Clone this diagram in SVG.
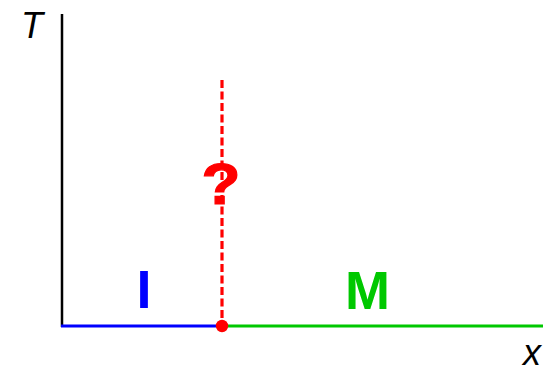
<svg xmlns="http://www.w3.org/2000/svg" width="543" height="370" viewBox="0 0 543 370">
<style>
.ax{font-family:"Liberation Sans",Arial,sans-serif;font-style:italic;font-size:36px;fill:#000}
.lb{font-family:"Liberation Sans",Arial,sans-serif;font-weight:bold;font-size:54px;text-anchor:middle}
</style>
<rect width="543" height="370" fill="#fff"/>
<g id="connectors">
<line x1="62" y1="14" x2="62" y2="327" stroke="#000" stroke-width="2.5"/>
<line x1="61" y1="326" x2="222" y2="326" stroke="#0000ff" stroke-width="3"/>
<line x1="222" y1="326" x2="543" y2="326" stroke="#00c800" stroke-width="3"/>
<line x1="222" y1="80" x2="222" y2="326" stroke="#ff0000" stroke-width="3.2" stroke-dasharray="8 3.5"/>
</g>
<g id="axis-T"><text class="ax" x="21" y="37.5">T</text></g>
<g id="axis-x"><text class="ax" x="523" y="365">x</text></g>
<g id="label-I"><text class="lb" x="144" y="308" fill="#0000ff">I</text></g>
<g id="label-M"><text class="lb" x="367.5" y="308.5" fill="#00c800">M</text></g>
<g id="question"><text class="lb" transform="translate(221 203.5) scale(1.1 1)" x="0" y="0" fill="#ff0000" stroke="#ff0000" stroke-width="1.2" style="font-size:58px">?</text></g>
<g id="point"><circle cx="222" cy="326" r="6.2" fill="#ff0000"/></g>
</svg>
